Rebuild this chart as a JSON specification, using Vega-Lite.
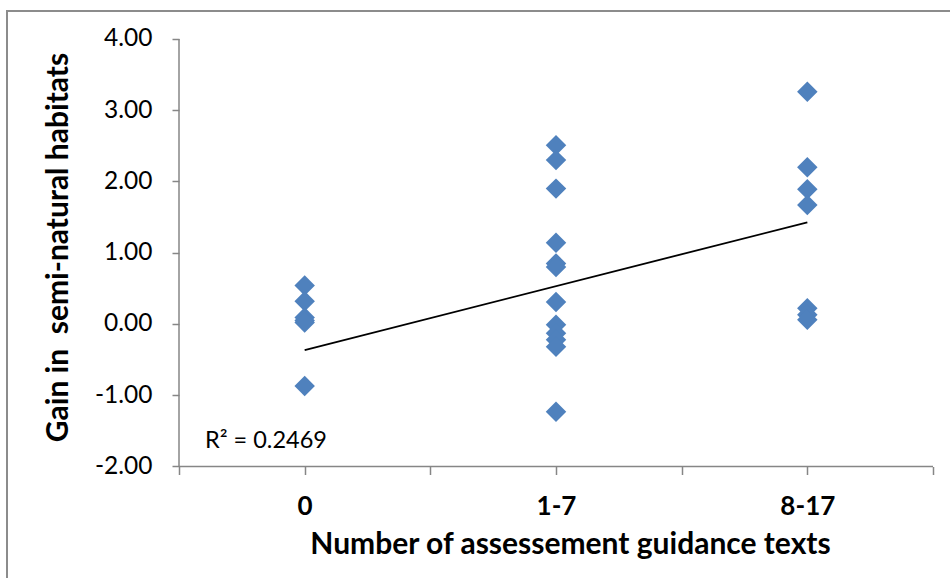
{
  "$schema": "https://vega.github.io/schema/vega-lite/v6.json",
  "autosize": "none",
  "width": 960,
  "height": 600,
  "padding": {"left": 7, "top": 11, "right": 0, "bottom": 0},
  "background": "white",
  "config": {
    "view": {"stroke": "#8c8c8c", "strokeWidth": 2},
    "axis": {"grid": false, "domain": false, "tickColor": "#868686", "tickWidth": 1.5, "labelColor": "#000000", "titleColor": "#000000", "labelFont": "Lato", "titleFont": "Lato"}
  },
  "layer": [
    {
      "data": {"values": [{"a": 1}]},
      "mark": {"type": "rule", "color": "#868686", "strokeWidth": 1.5},
      "encoding": {
        "x": {"datum": 0.5, "type": "quantitative"},
        "y": {"datum": -2, "type": "quantitative"},
        "y2": {"datum": 4}
      }
    },
    {
      "data": {"values": [{"a": 1}]},
      "mark": {"type": "rule", "color": "#868686", "strokeWidth": 1.5},
      "encoding": {
        "x": {"datum": 0.5, "type": "quantitative"},
        "x2": {"datum": 3.5},
        "y": {"datum": -2, "type": "quantitative"}
      }
    },
    {
      "data": {"values": [
        {"group": "0", "x": 1, "gain": 0.54},
        {"group": "0", "x": 1, "gain": 0.32},
        {"group": "0", "x": 1, "gain": 0.09},
        {"group": "0", "x": 1, "gain": 0.05},
        {"group": "0", "x": 1, "gain": 0.02},
        {"group": "0", "x": 1, "gain": -0.87},
        {"group": "1-7", "x": 2, "gain": 2.51},
        {"group": "1-7", "x": 2, "gain": 2.30},
        {"group": "1-7", "x": 2, "gain": 1.90},
        {"group": "1-7", "x": 2, "gain": 1.14},
        {"group": "1-7", "x": 2, "gain": 0.85},
        {"group": "1-7", "x": 2, "gain": 0.80},
        {"group": "1-7", "x": 2, "gain": 0.31},
        {"group": "1-7", "x": 2, "gain": -0.01},
        {"group": "1-7", "x": 2, "gain": -0.13},
        {"group": "1-7", "x": 2, "gain": -0.22},
        {"group": "1-7", "x": 2, "gain": -0.32},
        {"group": "1-7", "x": 2, "gain": -1.23},
        {"group": "8-17", "x": 3, "gain": 3.26},
        {"group": "8-17", "x": 3, "gain": 2.20},
        {"group": "8-17", "x": 3, "gain": 1.89},
        {"group": "8-17", "x": 3, "gain": 1.67},
        {"group": "8-17", "x": 3, "gain": 0.22},
        {"group": "8-17", "x": 3, "gain": 0.13},
        {"group": "8-17", "x": 3, "gain": 0.06}
      ]},
      "mark": {"type": "point", "shape": "diamond", "filled": true, "size": 420, "color": "#4F81BD", "opacity": 1},
      "encoding": {
        "x": {
          "field": "x", "type": "quantitative",
          "scale": {"domain": [-0.18435, 3.63528], "nice": false, "zero": false},
          "axis": {
            "title": "Number of assessement guidance texts",
            "values": [0.5, 1, 1.5, 2, 2.5, 3, 3.5],
            "labelExpr": "datum.value == 1 ? '0' : datum.value == 2 ? '1-7' : datum.value == 3 ? '8-17' : ''",
            "offset": -144.5,
            "tickSize": 8,
            "labelFontSize": 26,
            "labelFontWeight": "bold",
            "labelBaseline": "alphabetic",
            "labelPadding": 39.5,
            "labelOverlap": false,
            "labelFlush": false,
            "titleFontSize": 30,
            "titleFontWeight": "bold",
            "titleBaseline": "alphabetic",
            "titleX": 563,
            "titleY": 87,
            "titleAnchor": null
          }
        },
        "y": {
          "field": "gain", "type": "quantitative",
          "scale": {"domain": [-4.02807, 4.39298], "nice": false, "zero": false},
          "axis": {
            "title": "Gain in\u00a0 semi-natural habitats",
            "values": [-2, -1, 0, 1, 2, 3, 4],
            "labelExpr": "replace(format(datum.value, '.2f'), '\u2212', '-')",
            "offset": -172,
            "tickSize": 7,
            "labelFontSize": 24.5,
            "labelPadding": 20,
            "labelOverlap": false,
            "labelFlush": false,
            "titleFontSize": 30,
            "titleFontWeight": "bold",
            "titleBaseline": "alphabetic",
            "titleX": -112,
            "titleY": 236
          }
        }
      }
    },
    {
      "data": {"values": [{"x": 1, "gain": -0.365}, {"x": 3, "gain": 1.427}]},
      "mark": {"type": "line", "color": "#000000", "strokeWidth": 1.8},
      "encoding": {
        "x": {"field": "x", "type": "quantitative"},
        "y": {"field": "gain", "type": "quantitative"}
      }
    },
    {
      "data": {"values": [{"x": 0.6034, "gain": -1.642, "label": "R² = 0.2469"}]},
      "mark": {"type": "text", "align": "left", "baseline": "middle", "font": "Lato", "fontSize": 23.5, "color": "#000000"},
      "encoding": {
        "x": {"field": "x", "type": "quantitative"},
        "y": {"field": "gain", "type": "quantitative"},
        "text": {"field": "label"}
      }
    }
  ]
}
